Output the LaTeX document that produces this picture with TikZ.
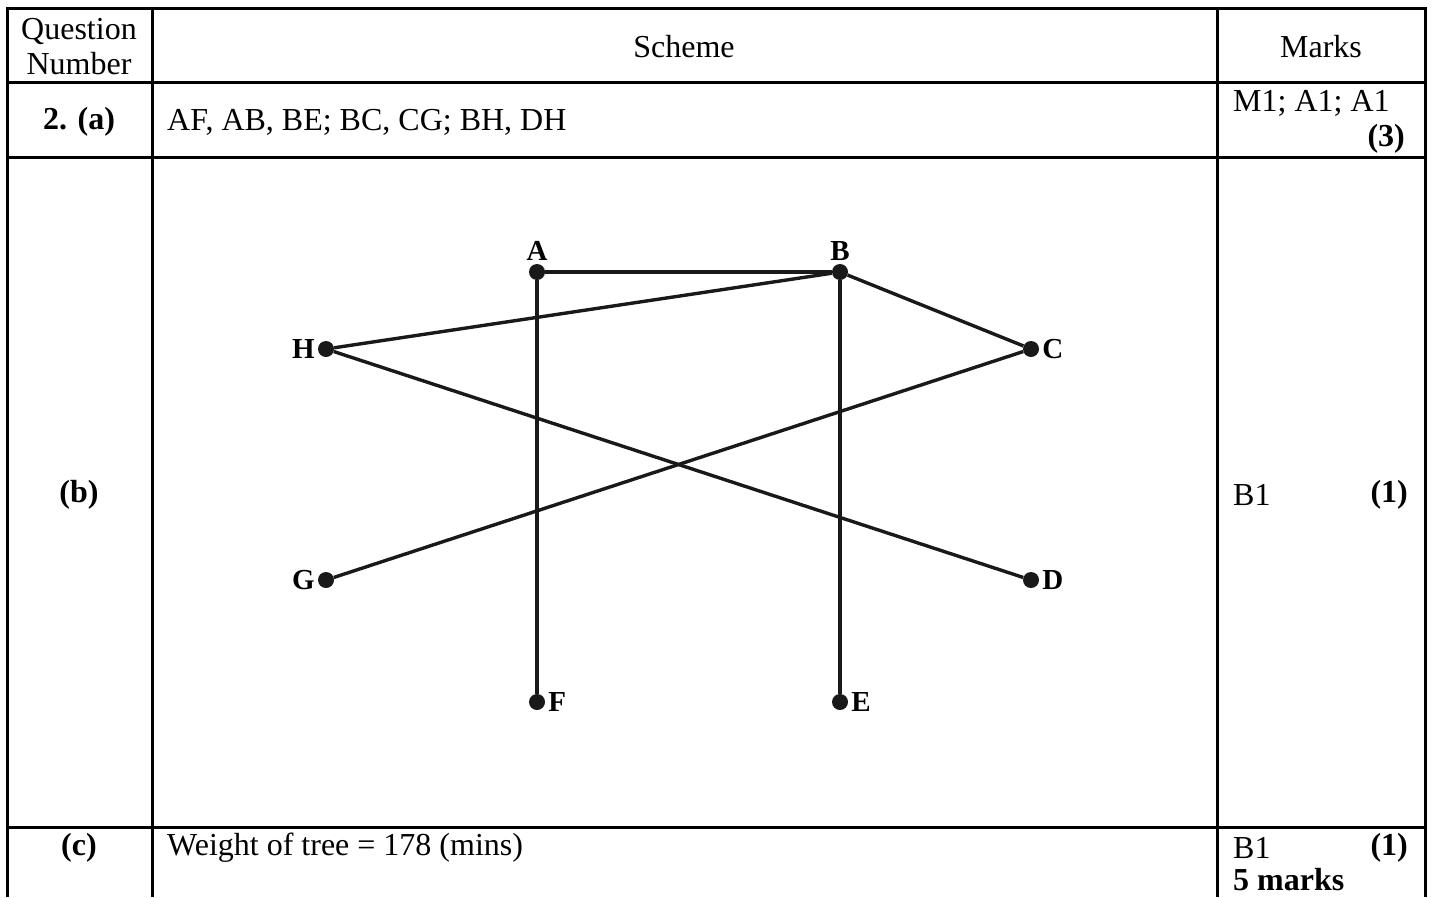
\documentclass[tikz,border=0pt]{standalone}
\usepackage{fontspec}
\setmainfont{Liberation Serif}
\usepackage{tikz}

\begin{document}
\begin{tikzpicture}[x=1pt,y=-1pt,
  rule/.style={line width=3pt},
  edge/.style={line width=3.4pt,black!90},
  vtx/.style={circle,fill=black!90,inner sep=0pt,minimum size=16pt},
  vlbl/.style={font=\fontsize{29}{30}\selectfont\bfseries,inner sep=3pt},
  txt/.style={font=\fontsize{32}{35}\selectfont,inner sep=0pt},
  btxt/.style={font=\fontsize{32}{35}\selectfont\bfseries,inner sep=0pt}]
\useasboundingbox (0,0) rectangle (1432,897);
% table rules
\draw[rule] (7,897) -- (7,8) -- (1425,8) -- (1425,897);
\draw[rule] (152,8) -- (152,897);
\draw[rule] (1217,8) -- (1217,897);
\foreach \y in {82,157,827} {
   \draw[rule] (7,\y) -- (1425,\y);
}
% header
\node[txt,align=center] (qn) at (79,47) {Question\\Number};
\node[txt] (sch) at (684,47) {Scheme};
\node[txt] (mk) at (1321,47) {Marks};
% part a
\node[btxt] (pa) at (79,122) {2. (a)};
\node[txt,anchor=west] (ans) at (167,122) {AF, AB, BE; BC, CG; BH, DH};
\node[txt,anchor=west] (ma) at (1233,103) {M1; A1; A1};
\node[btxt,anchor=east] (ta) at (1405,139) {(3)};
% part b
\node[btxt] (pb) at (79,495) {(b)};
\node[txt,anchor=west] (mb) at (1233,495) {B1};
\node[btxt,anchor=east] (tb) at (1408,495) {(1)};
% the tree
\node[vtx,label={[vlbl]above:A}] (A) at (537,272) {};
\node[vtx,label={[vlbl]above:B}] (B) at (840,272) {};
\node[vtx,label={[vlbl]left:H}] (H) at (326,349) {};
\node[vtx,label={[vlbl]right:C}] (C) at (1031,349) {};
\node[vtx,label={[vlbl]left:G}] (G) at (326,580) {};
\node[vtx,label={[vlbl]right:D}] (D) at (1031,580) {};
\node[vtx,label={[vlbl]right:F}] (F) at (537,702) {};
\node[vtx,label={[vlbl]right:E}] (E) at (840,702) {};
\foreach \a/\b in {A/F,A/B,B/E,B/C,C/G,B/H,D/H} {
   \draw[edge] (\a) -- (\b);
}
% part c
\node[btxt] (pc) at (79,848) {(c)};
\node[txt,anchor=west] (wt) at (167,848) {Weight of tree = 178 (mins)};
\node[txt,anchor=west] (mc) at (1233,848) {B1};
\node[btxt,anchor=east] (tc) at (1408,848) {(1)};
\node[btxt,anchor=west] (tot) at (1233,880) {5 marks};
\end{tikzpicture}
\end{document}
